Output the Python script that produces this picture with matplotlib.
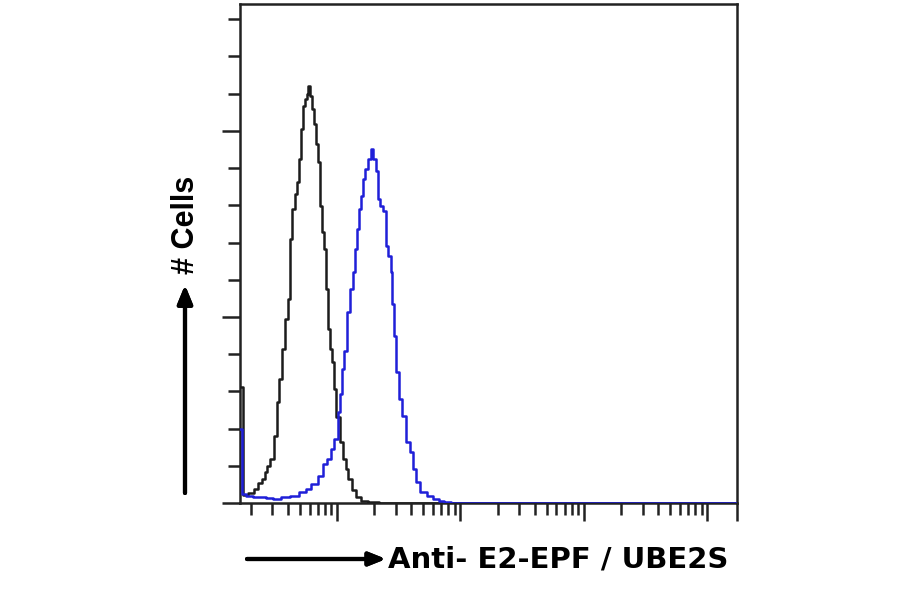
import numpy as np
import matplotlib
matplotlib.use('Agg')
import matplotlib.pyplot as plt
from matplotlib.ticker import FixedLocator, NullFormatter

# isotype control (black) - fluorescence intensity vs cell count
ctrlX = [1.64, 1.67, 1.83, 2.01, 2.21, 2.38, 2.52, 2.66, 2.81, 2.98, 3.15, 3.33, 3.52,
         3.72, 3.87, 4.09, 4.24, 4.49, 4.66, 4.83, 5.01, 5.21, 5.41, 5.61, 5.82,
         5.93, 6.15, 6.39, 6.64, 6.89, 7.15, 7.42, 7.70, 8.00, 8.30, 8.61, 8.94,
         9.28, 9.63, 10.2, 10.8, 11.4, 12.1, 12.7, 13.7, 15.1, 16.2, 19.2, 25.0,
         17000]
ctrlY = [3.12, 3.12, 0.22, 0.27, 0.38, 0.54, 0.65, 0.83, 0.99, 1.18, 1.80, 2.72, 3.33,
         4.14, 4.95, 5.48, 7.10, 7.90, 8.31, 8.63, 9.25, 10.05, 10.67, 10.86, 10.99,
         11.21, 10.94, 10.59, 10.19, 9.65, 9.17, 7.98, 7.28, 6.83, 5.75, 4.68, 4.14,
         3.79, 3.06, 2.31, 1.64, 1.18, 0.91, 0.65, 0.35, 0.16, 0.05, 0.03, 0.0,
         0.0]

# E2-EPF / UBE2S stained (blue)
stainX = [1.64, 1.67, 1.73, 1.94, 2.21, 2.52, 2.81, 3.21, 3.87, 4.49, 5.31, 5.82, 6.51,
          7.42, 8.00, 8.61, 9.28, 9.82, 10.4, 10.8, 11.2, 11.8, 12.5, 13.2, 13.7,
          14.3, 14.8, 15.4, 15.9, 16.5, 17.5, 18.5, 19.2, 20.3, 21.1, 21.9, 23.1,
          24.5, 25.4, 26.9, 27.9, 28.4, 29.5, 31.2, 32.4, 35.5, 37.6, 40.5, 42.8,
          45.3, 49.7, 56.6, 64.5, 70.8, 77.8, 90.0, 17000]
stainY = [1.99, 1.99, 0.24, 0.19, 0.16, 0.16, 0.13, 0.11, 0.16, 0.19, 0.30, 0.38, 0.51,
          0.73, 1.05, 1.18, 1.45, 1.72, 2.45, 2.93, 3.60, 4.09, 5.13, 5.75, 6.21,
          6.83, 7.37, 7.90, 8.25, 8.71, 8.98, 9.25, 9.52, 9.25, 8.92, 8.17, 7.98,
          7.85, 6.91, 6.64, 6.21, 5.35, 4.49, 3.52, 2.80, 2.34, 1.64, 1.37, 0.91,
          0.56, 0.30, 0.19, 0.11, 0.05, 0.03, 0.0, 0.0]

XMIN = 1.64
XMAX = 17400
YMAX = 13.41
majorX = [10, 100, 1000, 10000, XMAX]
minorX = [m * 10 ** d for d in range(0, 4) for m in range(2, 10) if m * 10 ** d > XMIN]

fig = plt.figure(figsize=(9, 5.94), dpi=100)
ax = fig.add_axes([240 / 900, 91 / 594, 497 / 900, 499 / 594])

ax.step(ctrlX, ctrlY, where='mid', color='#1c1c1c', lw=1.8, zorder=3)
ax.step(stainX, stainY, where='mid', color='#1f1fd8', lw=1.8, zorder=4)

ax.set_xscale('log')
ax.set_xlim(XMIN, XMAX)
ax.set_ylim(0, YMAX)

ax.xaxis.set_major_locator(FixedLocator(majorX))
ax.xaxis.set_minor_locator(FixedLocator(minorX))
ax.xaxis.set_major_formatter(NullFormatter())
ax.xaxis.set_minor_formatter(NullFormatter())
ax.yaxis.set_major_locator(FixedLocator([0, 5, 10]))
ax.yaxis.set_minor_locator(FixedLocator(list(range(0, 14))))
ax.yaxis.set_major_formatter(NullFormatter())

ax.tick_params(axis='both', which='major', direction='out', length=13, width=1.8, color='#222222')
ax.tick_params(axis='both', which='minor', direction='out', length=8.5, width=1.8, color='#222222')
for s in ax.spines.values():
    s.set_linewidth(1.8)
    s.set_color('#222222')

# axis captions with arrows, as on the cytometer print-out
fig.text(186 / 900, 1 - 225 / 594, '# Cells', rotation=90, ha='center', va='center',
         fontsize=22, fontweight='bold', family=['Liberation Sans', 'DejaVu Sans'])
fig.add_artist(plt.annotate('', xy=(185 / 900, 1 - 285 / 594), xytext=(185 / 900, 1 - 493 / 594),
                            xycoords='figure fraction', textcoords='figure fraction',
                            arrowprops=dict(arrowstyle='-|>,head_length=1.1,head_width=0.45',
                                            lw=3, color='black', shrinkA=0, shrinkB=0)))
fig.add_artist(plt.annotate('', xy=(386 / 900, 1 - 559 / 594), xytext=(247 / 900, 1 - 559 / 594),
                            xycoords='figure fraction', textcoords='figure fraction',
                            arrowprops=dict(arrowstyle='-|>,head_length=1.0,head_width=0.4',
                                            lw=3, color='black', shrinkA=0, shrinkB=0)))
fig.text(388 / 900, 1 - 559 / 594, 'Anti- E2-EPF / UBE2S', ha='left', va='center',
         fontsize=21, fontweight='bold', family='DejaVu Sans')

plt.savefig('out.png', dpi=100)
